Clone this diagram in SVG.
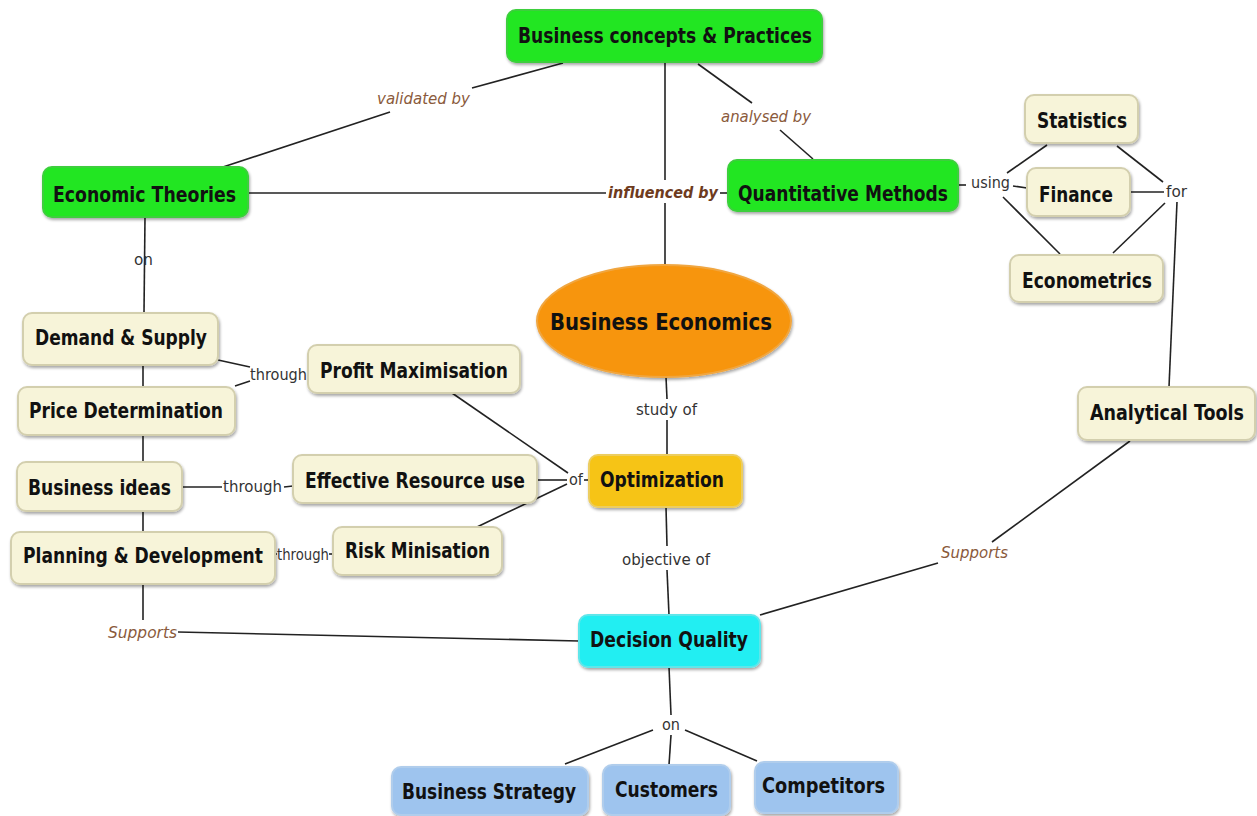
<svg xmlns="http://www.w3.org/2000/svg" width="1257" height="816" viewBox="0 0 1257 816">
<defs>
<filter id="sh" x="-10%" y="-20%" width="120%" height="140%">
<feGaussianBlur in="SourceAlpha" stdDeviation="1.5"/>
<feOffset dx="1" dy="1.5" result="b"/>
<feComponentTransfer><feFuncA type="linear" slope="0.35"/></feComponentTransfer>
<feMerge><feMergeNode/><feMergeNode in="SourceGraphic"/></feMerge>
</filter>
</defs>
<style>
.n{font-family:"DejaVu Sans","Liberation Sans",sans-serif;font-weight:bold;font-size:21px;fill:#111;}
.l{font-family:"DejaVu Sans","Liberation Sans",sans-serif;font-size:16px;fill:#333;}
.li{font-family:"DejaVu Sans","Liberation Sans",sans-serif;font-size:16px;font-style:italic;fill:#8a5a3c;}
.lb{font-family:"DejaVu Sans","Liberation Sans",sans-serif;font-size:16px;font-style:italic;font-weight:bold;fill:#6e3b1e;}
.g{fill:#22e622;stroke:#3ccf3c;stroke-width:2;filter:url(#sh);}
.c{fill:#f7f4d9;stroke:#d3cfae;stroke-width:2;filter:url(#sh);}
.o{fill:#f7950f;stroke:#f0a640;stroke-width:2;filter:url(#sh);}
.y{fill:#f6c417;stroke:#eccd60;stroke-width:2;filter:url(#sh);}
.q{fill:#22eef2;stroke:#5fe6ea;stroke-width:2;filter:url(#sh);}
.b{fill:#9ec4ee;stroke:#b0cdec;stroke-width:2;filter:url(#sh);}
.e line{stroke:#222;stroke-width:1.6;fill:none;}
</style>
<rect width="1257" height="816" fill="#fff"/>
<g class="e" id="connectors">
<line x1="563" y1="63" x2="472" y2="88"/>
<line x1="390" y1="112" x2="223" y2="167"/>
<line x1="698" y1="64" x2="752" y2="103"/>
<line x1="780" y1="130" x2="813" y2="159"/>
<line x1="665" y1="63" x2="665" y2="180"/>
<line x1="665" y1="203" x2="665" y2="265"/>
<line x1="248" y1="193" x2="606" y2="193"/>
<line x1="720" y1="193" x2="728" y2="193"/>
<line x1="145" y1="217" x2="144" y2="313"/>
<line x1="143" y1="365" x2="143" y2="387"/>
<line x1="143" y1="435" x2="143" y2="462"/>
<line x1="143" y1="511" x2="143" y2="532"/>
<line x1="143" y1="584" x2="143" y2="620"/>
<line x1="178" y1="632" x2="579" y2="641"/>
<line x1="218" y1="360" x2="250" y2="367"/>
<line x1="235" y1="386" x2="250" y2="381"/>
<line x1="182" y1="487" x2="222" y2="487"/>
<line x1="284" y1="487" x2="293" y2="486"/>
<line x1="275" y1="554" x2="277" y2="554"/>
<line x1="329" y1="554" x2="333" y2="554"/>
<line x1="452" y1="393" x2="568" y2="473"/>
<line x1="537" y1="480" x2="567" y2="480"/>
<line x1="477" y1="527" x2="567" y2="484"/>
<line x1="584" y1="480" x2="589" y2="480"/>
<line x1="666" y1="377" x2="667" y2="399"/>
<line x1="667" y1="420" x2="667" y2="455"/>
<line x1="666" y1="507" x2="667" y2="546"/>
<line x1="667" y1="570" x2="669" y2="615"/>
<line x1="669" y1="667" x2="671" y2="715"/>
<line x1="653" y1="730" x2="565" y2="764"/>
<line x1="671" y1="735" x2="669" y2="765"/>
<line x1="685" y1="730" x2="757" y2="761"/>
<line x1="760" y1="615" x2="938" y2="563"/>
<line x1="992" y1="542" x2="1130" y2="441"/>
<line x1="958" y1="185" x2="966" y2="185"/>
<line x1="1007" y1="173" x2="1047" y2="145"/>
<line x1="1013" y1="186" x2="1027" y2="188"/>
<line x1="1003" y1="197" x2="1060" y2="254"/>
<line x1="1117" y1="146" x2="1163" y2="182"/>
<line x1="1130" y1="192" x2="1164" y2="192"/>
<line x1="1113" y1="253" x2="1165" y2="203"/>
<line x1="1177" y1="202" x2="1169" y2="387"/>
</g>
<g id="labels">
<text class="li" transform="translate(377 104) scale(0.88 1)" textLength="105.7" lengthAdjust="spacingAndGlyphs">validated by</text>
<text class="li" transform="translate(721 122) scale(0.88 1)" textLength="102.3" lengthAdjust="spacingAndGlyphs">analysed by</text>
<text class="lb" transform="translate(608 198) scale(0.88 1)" textLength="125" lengthAdjust="spacingAndGlyphs">influenced by</text>
<text class="l" transform="translate(971 188) scale(0.88 1)" textLength="44.3" lengthAdjust="spacingAndGlyphs">using</text>
<text class="l" transform="translate(1166 197) scale(0.88 1)" textLength="23.9" lengthAdjust="spacingAndGlyphs">for</text>
<text class="l" transform="translate(134 265) scale(0.88 1)" textLength="21.6" lengthAdjust="spacingAndGlyphs">on</text>
<text class="l" transform="translate(250 380) scale(0.88 1)" textLength="64.8" lengthAdjust="spacingAndGlyphs">through</text>
<text class="l" transform="translate(223 492) scale(0.88 1)" textLength="67" lengthAdjust="spacingAndGlyphs">through</text>
<text class="l" transform="translate(277 560) scale(0.88 1)" textLength="59.1" lengthAdjust="spacingAndGlyphs">through</text>
<text class="l" transform="translate(569 485) scale(0.88 1)" textLength="15.9" lengthAdjust="spacingAndGlyphs">of</text>
<text class="l" transform="translate(636 415) scale(0.88 1)" textLength="69.3" lengthAdjust="spacingAndGlyphs">study of</text>
<text class="l" transform="translate(622 565) scale(0.88 1)" textLength="100" lengthAdjust="spacingAndGlyphs">objective of</text>
<text class="li" transform="translate(108 638) scale(0.88 1)" textLength="78.4" lengthAdjust="spacingAndGlyphs">Supports</text>
<text class="li" transform="translate(941 558) scale(0.88 1)" textLength="76.1" lengthAdjust="spacingAndGlyphs">Supports</text>
<text class="l" transform="translate(662 730) scale(0.88 1)" textLength="20.5" lengthAdjust="spacingAndGlyphs">on</text>
</g>
<g id="business-concepts"><rect class="g" x="507" y="10" width="315" height="52" rx="9"/><text class="n" transform="translate(518 43) scale(0.8 1)" textLength="367.5" lengthAdjust="spacingAndGlyphs">Business concepts &amp; Practices</text></g>
<g id="economic-theories"><rect class="g" x="43" y="167" width="205" height="50" rx="9"/><text class="n" transform="translate(53 202) scale(0.8 1)" textLength="228.75" lengthAdjust="spacingAndGlyphs">Economic Theories</text></g>
<g id="quantitative-methods"><rect class="g" x="728" y="160" width="230" height="51" rx="9"/><text class="n" transform="translate(738 201) scale(0.8 1)" textLength="262.5" lengthAdjust="spacingAndGlyphs">Quantitative Methods</text></g>
<g id="statistics"><rect class="c" x="1025" y="95" width="113" height="48" rx="9"/><text class="n" transform="translate(1037 128) scale(0.8 1)" textLength="112.5" lengthAdjust="spacingAndGlyphs">Statistics</text></g>
<g id="finance"><rect class="c" x="1027" y="168" width="103" height="48" rx="9"/><text class="n" transform="translate(1039 202) scale(0.8 1)" textLength="92.5" lengthAdjust="spacingAndGlyphs">Finance</text></g>
<g id="econometrics"><rect class="c" x="1010" y="255" width="153" height="47" rx="9"/><text class="n" transform="translate(1022 288) scale(0.8 1)" textLength="162.5" lengthAdjust="spacingAndGlyphs">Econometrics</text></g>
<g id="analytical-tools"><rect class="c" x="1078" y="387" width="177" height="53" rx="9"/><text class="n" transform="translate(1090 420) scale(0.8 1)" textLength="192.5" lengthAdjust="spacingAndGlyphs">Analytical Tools</text></g>
<g id="business-economics"><ellipse class="o" cx="664" cy="321" rx="127" ry="56"/><text class="n" style="font-size:23px" transform="translate(550 330) scale(0.8 1)" textLength="277.5" lengthAdjust="spacingAndGlyphs">Business Economics</text></g>
<g id="optimization"><rect class="y" x="589" y="455" width="153" height="52" rx="9"/><text class="n" transform="translate(600 487) scale(0.8 1)" textLength="155" lengthAdjust="spacingAndGlyphs">Optimization</text></g>
<g id="profit-maximisation"><rect class="c" x="308" y="345" width="212" height="48" rx="9"/><text class="n" transform="translate(320 378) scale(0.8 1)" textLength="235" lengthAdjust="spacingAndGlyphs">Profit Maximisation</text></g>
<g id="effective-resource-use"><rect class="c" x="293" y="455" width="244" height="48" rx="9"/><text class="n" transform="translate(305 488) scale(0.8 1)" textLength="275" lengthAdjust="spacingAndGlyphs">Effective Resource use</text></g>
<g id="risk-minisation"><rect class="c" x="333" y="527" width="169" height="48" rx="9"/><text class="n" transform="translate(345 558) scale(0.8 1)" textLength="181.25" lengthAdjust="spacingAndGlyphs">Risk Minisation</text></g>
<g id="demand-supply"><rect class="c" x="23" y="313" width="195" height="52" rx="9"/><text class="n" transform="translate(35 345) scale(0.8 1)" textLength="215" lengthAdjust="spacingAndGlyphs">Demand &amp; Supply</text></g>
<g id="price-determination"><rect class="c" x="18" y="387" width="217" height="48" rx="9"/><text class="n" transform="translate(29 418) scale(0.8 1)" textLength="242.5" lengthAdjust="spacingAndGlyphs">Price Determination</text></g>
<g id="business-ideas"><rect class="c" x="17" y="462" width="165" height="49" rx="9"/><text class="n" transform="translate(28 495) scale(0.8 1)" textLength="178.75" lengthAdjust="spacingAndGlyphs">Business ideas</text></g>
<g id="planning-development"><rect class="c" x="11" y="532" width="264" height="52" rx="9"/><text class="n" transform="translate(23 563) scale(0.8 1)" textLength="300" lengthAdjust="spacingAndGlyphs">Planning &amp; Development</text></g>
<g id="decision-quality"><rect class="q" x="579" y="615" width="181" height="52" rx="9"/><text class="n" transform="translate(590 647) scale(0.8 1)" textLength="197.5" lengthAdjust="spacingAndGlyphs">Decision Quality</text></g>
<g id="business-strategy"><rect class="b" x="392" y="767" width="196" height="48" rx="9"/><text class="n" transform="translate(402 799) scale(0.8 1)" textLength="217.5" lengthAdjust="spacingAndGlyphs">Business Strategy</text></g>
<g id="customers"><rect class="b" x="603" y="765" width="127" height="50" rx="9"/><text class="n" transform="translate(615 797) scale(0.8 1)" textLength="128.75" lengthAdjust="spacingAndGlyphs">Customers</text></g>
<g id="competitors"><rect class="b" x="755" y="762" width="143" height="51" rx="9"/><text class="n" transform="translate(762 793) scale(0.8 1)" textLength="153.75" lengthAdjust="spacingAndGlyphs">Competitors</text></g>
</svg>
